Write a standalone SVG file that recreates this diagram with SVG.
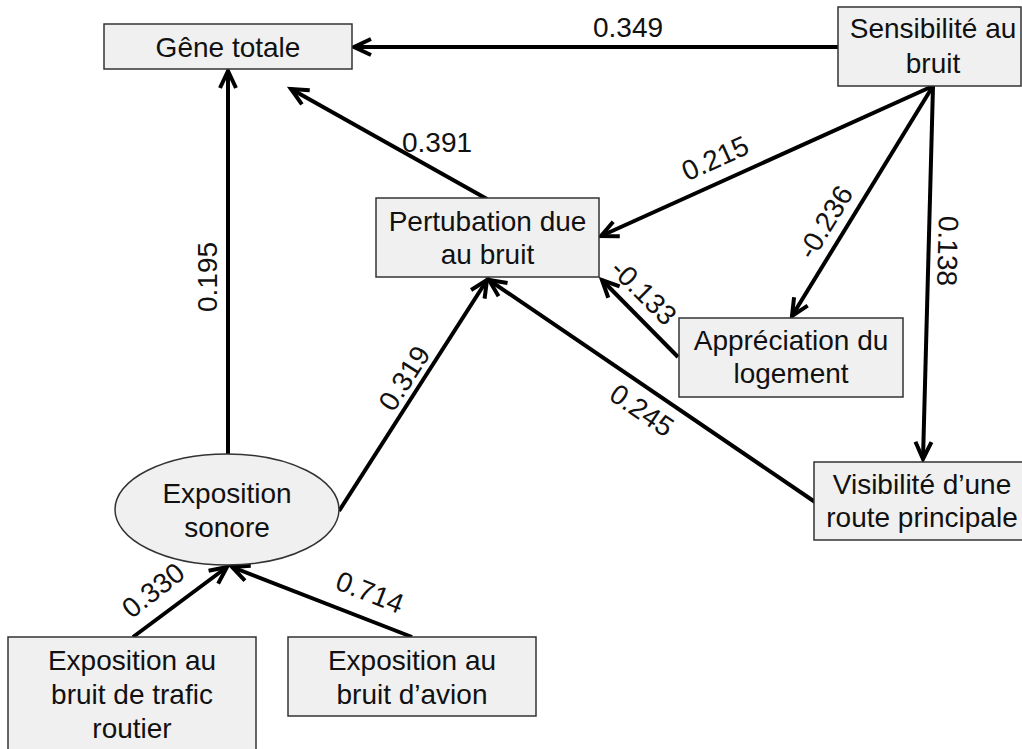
<svg xmlns="http://www.w3.org/2000/svg" width="1022" height="749" viewBox="0 0 1022 749">
<style>
.box{fill:#f0f0f0;stroke:#333;stroke-width:1.5}
.t{font-family:"Liberation Sans",Arial,sans-serif;font-size:28px;fill:#111;text-anchor:middle}
.e{fill:none;stroke:#000;stroke-width:4;marker-end:url(#ah)}
.l{font-family:"Liberation Sans",Arial,sans-serif;font-size:28px;fill:#111;text-anchor:middle}
</style>
<defs>
<marker id="ah" markerUnits="userSpaceOnUse" markerWidth="26" markerHeight="26" viewBox="0 0 26 26" refX="21" refY="13" orient="auto">
<path d="M4,5 L21,13 L4,21" fill="none" stroke="#000" stroke-width="4"/>
</marker>
</defs>
<rect width="1022" height="749" fill="#fff"/>
<g id="connectors">
<line class="e" x1="838" y1="47" x2="354" y2="47"/>
<line class="e" x1="487" y1="199" x2="291" y2="89"/>
<line class="e" x1="228" y1="454" x2="228" y2="71"/>
<line class="e" x1="933" y1="86" x2="601" y2="236"/>
<line class="e" x1="933" y1="86" x2="792" y2="316"/>
<line class="e" x1="933" y1="86" x2="923" y2="459"/>
<line class="e" x1="678" y1="357" x2="602" y2="280"/>
<line class="e" x1="815" y1="502" x2="489" y2="280"/>
<line class="e" x1="339" y1="511" x2="487" y2="280"/>
<line class="e" x1="133" y1="637" x2="227" y2="567"/>
<line class="e" x1="412" y1="637" x2="232" y2="567"/>
<g id="labels">
<text class="l" x="628" y="37">0.349</text>
<text class="l" x="437" y="152">0.391</text>
<text class="l" transform="translate(715,158) rotate(-24.4)" y="10">0.215</text>
<text class="l" transform="translate(825,222) rotate(-58.6)" y="10">-0.236</text>
<text class="l" transform="translate(948,251) rotate(91.5)" y="10">0.138</text>
<text class="l" transform="translate(644,292) rotate(45)" y="10">-0.133</text>
<text class="l" transform="translate(642,410) rotate(34.3)" y="10">0.245</text>
<text class="l" transform="translate(404,378) rotate(-57.4)" y="10">0.319</text>
<text class="l" transform="translate(207,277) rotate(-90)" y="10">0.195</text>
<text class="l" transform="translate(153,590) rotate(-38)" y="10">0.330</text>
<text class="l" transform="translate(370,592) rotate(21.3)" y="10">0.714</text>
</g>
</g>
<g id="gene">
<rect class="box" x="104" y="24" width="248" height="45"/>
<text class="t" x="228" y="57">Gêne totale</text>
</g>
<g id="sensibilite">
<rect class="box" x="838" y="7" width="183" height="79"/>
<text class="t" x="933" y="38">Sensibilité au</text>
<text class="t" x="933" y="73">bruit</text>
</g>
<g id="perturbation">
<rect class="box" x="376" y="198" width="223" height="79"/>
<text class="t" x="487.5" y="231">Pertubation due</text>
<text class="t" x="487.5" y="264">au bruit</text>
</g>
<g id="appreciation">
<rect class="box" x="679" y="318" width="224" height="79"/>
<text class="t" x="791" y="350">Appréciation du</text>
<text class="t" x="791" y="383">logement</text>
</g>
<g id="visibilite">
<rect class="box" x="814" y="462" width="216" height="78"/>
<text class="t" x="922" y="494">Visibilité d’une</text>
<text class="t" x="922" y="527">route principale</text>
</g>
<g id="exposition-sonore">
<ellipse class="box" cx="227" cy="509.5" rx="112" ry="55.5"/>
<text class="t" x="227" y="503">Exposition</text>
<text class="t" x="227" y="537">sonore</text>
</g>
<g id="trafic">
<rect class="box" x="8" y="637" width="248" height="130"/>
<text class="t" x="132" y="670">Exposition au</text>
<text class="t" x="132" y="704">bruit de trafic</text>
<text class="t" x="132" y="738">routier</text>
</g>
<g id="avion">
<rect class="box" x="288" y="637" width="248" height="79"/>
<text class="t" x="412" y="670">Exposition au</text>
<text class="t" x="412" y="704">bruit d’avion</text>
</g>
</svg>
